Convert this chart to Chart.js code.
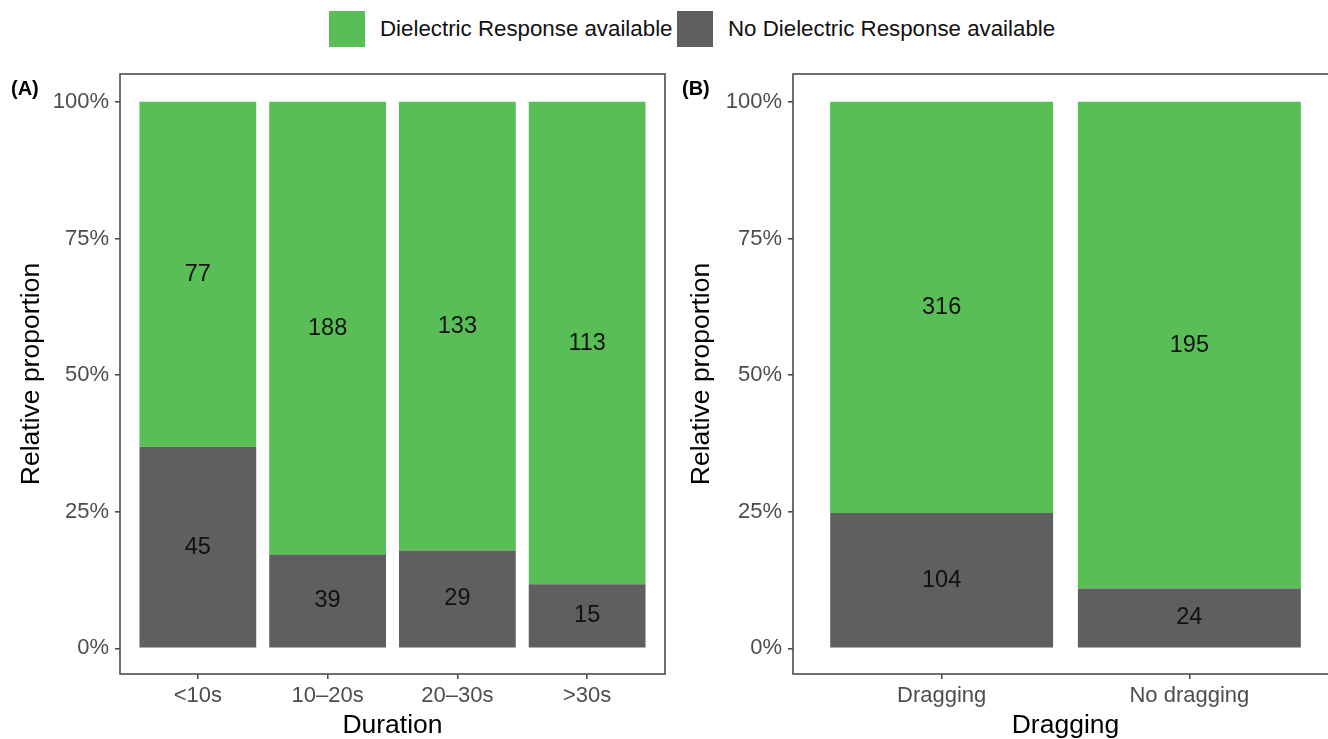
<!DOCTYPE html>
<html lang="en">
<head>
<meta charset="UTF-8" />
<title>Dielectric Response</title>
<script src="https://cdn.jsdelivr.net/npm/chart.js"></script>
<style>
  body { margin: 0; background: #fff; font-family: 'Liberation Sans', Arial, sans-serif; }
  #wrap { position: relative; width: 1328px; height: 739px; overflow: hidden; }
  .key { position: absolute; top: 11px; width: 36px; height: 36px; }
  .keytxt { position: absolute; top: 16px; font-size: 22.3px; color: #111; line-height: 26px; white-space: nowrap; }
  canvas { position: absolute; top: 0; }
</style>
</head>
<body>
<div id="wrap">
  <div class="key" style="left:329px;background:#58be55"></div>
  <div class="keytxt" style="left:380px">Dielectric Response available</div>
  <div class="key" style="left:677px;background:#5f5f5f"></div>
  <div class="keytxt" style="left:728px">No Dielectric Response available</div>
  <canvas id="chartA" width="670" height="739" style="left:0"></canvas>
  <canvas id="chartB" width="680" height="739" style="left:670px"></canvas>
</div>

<script>
  // counts
  const durationCats = ["<10s", "10\u201320s", "20\u201330s", ">30s"];
  const durationYes = [77, 188, 133, 113];
  const durationNo = [45, 39, 29, 15];

  const draggingCats = ["Dragging", "No dragging"];
  const draggingYes = [316, 195];
  const draggingNo = [104, 24];

  const yTicks = [0, 25, 50, 75, 100];

  const GREEN = "#58be55";
  const GREY = "#5f5f5f";
  const AXIS = "#4d4d4d";
  const FONT = "'Liberation Sans', Arial, sans-serif";

  // box around the panel + count labels + panel letter
  const panelPlugin = {
    id: "panel",
    afterDatasetsDraw(chart, args, opts) {
      const ctx = chart.ctx;
      ctx.save();
      ctx.fillStyle = "#111";
      ctx.font = "23.5px " + FONT;
      ctx.textAlign = "center";
      ctx.textBaseline = "middle";
      chart.data.datasets.forEach((ds, i) => {
        chart.getDatasetMeta(i).data.forEach((bar, j) => {
          ctx.fillText(ds.counts[j], bar.x, (bar.y + bar.base) / 2);
        });
      });
      const a = chart.chartArea;
      ctx.strokeStyle = AXIS;
      ctx.lineWidth = 1.6;
      ctx.strokeRect(a.left, a.top, a.right - a.left, a.bottom - a.top);
      ctx.font = "bold 20px " + FONT;
      ctx.textAlign = "left";
      ctx.fillStyle = "#000";
      ctx.fillText(opts.letter, opts.letterX, 89);
      ctx.restore();
    }
  };

  function makeChart(id, cats, yes, no, title, letter, letterX, yWidth, padRight) {
    const tot = yes.map((v, i) => v + no[i]);
    return new Chart(document.getElementById(id), {
      type: "bar",
      data: {
        datasets: [
          {
            label: "No Dielectric Response available",
            data: no.map((v, i) => ({ x: i, y: v / tot[i] * 100 })),
            counts: no,
            backgroundColor: GREY
          },
          {
            label: "Dielectric Response available",
            data: yes.map((v, i) => ({ x: i, y: v / tot[i] * 100 })),
            counts: yes,
            backgroundColor: GREEN
          }
        ]
      },
      options: {
        responsive: false,
        animation: false,
        barPercentage: 0.9,
        categoryPercentage: 1,
        layout: { padding: { top: 74, right: padRight, left: 0, bottom: -3 } },
        plugins: {
          legend: { display: false },
          tooltip: { enabled: false },
          panel: { letter: letter, letterX: letterX }
        },
        scales: {
          x: {
            type: "linear",
            stacked: true,
            offset: false,
            min: -0.6,
            max: cats.length - 0.4,
            afterBuildTicks: s => { s.ticks = cats.map((c, i) => ({ value: i })); },
            afterFit: s => { s.height = 68; },
            ticks: {
              callback: v => cats[v],
              color: AXIS,
              font: { size: 22, family: FONT },
              padding: 4,
              maxRotation: 0,
              autoSkip: false
            },
            grid: { offset: false, drawOnChartArea: false, drawTicks: true, tickLength: 5, color: AXIS, lineWidth: 1.6 },
            border: { display: false },
            title: { display: true, text: title, color: "#000", font: { size: 26.5, family: FONT }, padding: { top: 0, bottom: 0 } }
          },
          y: {
            stacked: true,
            min: -4.7,
            max: 105.1,
            afterBuildTicks: s => { s.ticks = yTicks.map(v => ({ value: v })); },
            afterFit: s => { s.width = yWidth; },
            ticks: {
              callback: v => v + "%",
              color: AXIS,
              font: { size: 22, family: FONT },
              padding: 6
            },
            grid: { drawOnChartArea: false, drawTicks: true, tickLength: 5, color: AXIS, lineWidth: 1.6 },
            border: { display: false },
            title: { display: true, text: "Relative proportion", color: "#000", font: { size: 26.5, family: FONT }, padding: { top: 16, bottom: 0 } }
          }
        }
      },
      plugins: [panelPlugin]
    });
  }

  makeChart("chartA", durationCats, durationYes, durationNo, "Duration", "(A)", 11, 120, 5);
  makeChart("chartB", draggingCats, draggingYes, draggingNo, "Dragging", "(B)", 12, 123, 12);
</script>
</body>
</html>
